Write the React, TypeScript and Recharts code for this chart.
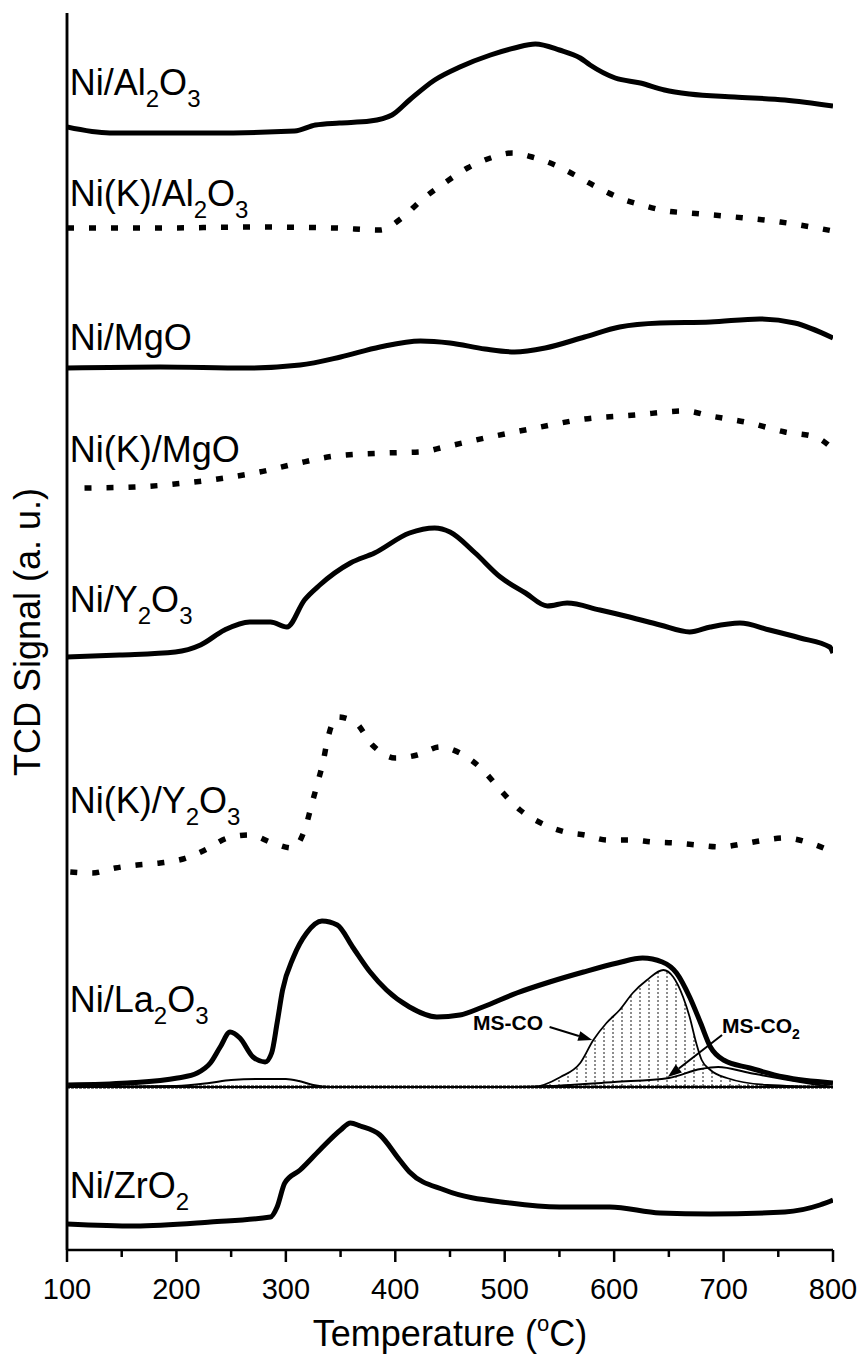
import React from 'react';
import { ComposedChart, Line, Area, XAxis, YAxis, ReferenceDot, ReferenceLine } from 'recharts';

const FONT = '"Liberation Sans", Arial, Helvetica, sans-serif';

// Temperature grid (°C) and TCD signal above each trace's own baseline (a.u.)
const alT = [100, 139, 231, 308, 327, 349, 377, 397, 413, 436, 459, 487, 509, 528, 550, 569, 578, 601, 624, 646, 669, 710, 756, 800];
const alSig = [6, 0, 0, 2, 8, 10, 12, 18, 33, 53, 66, 78, 85, 89, 83, 75, 68, 55, 50, 43, 39, 36, 33, 27];

const kAlT = [100, 185, 276, 345, 386, 406, 424, 445, 466, 487, 507, 525, 546, 564, 584, 605, 625, 648, 669, 710, 752, 800];
const kAlSig = [2, 2, 3, 2, 0, 12, 30, 47, 62, 72, 77, 73, 65, 55, 43, 32, 25, 19, 17, 13, 8, -1];

const mgoT = [100, 185, 263, 313, 350, 386, 423, 450, 482, 509, 537, 573, 605, 642, 688, 733, 765, 800];
const mgoSig = [0, 1, 0, 3, 11, 21, 27, 25, 19, 16, 20, 31, 41, 45, 46, 49, 45, 30];

const kMgoT = [116, 162, 208, 244, 276, 308, 345, 391, 423, 445, 482, 528, 573, 619, 665, 688, 724, 756, 784, 800];
const kMgoSig = [1, 2, 6, 11, 17, 25, 33, 36, 37, 42, 51, 61, 70, 74, 78, 73, 66, 57, 52, 40];

const yT = [100, 148, 199, 222, 244, 267, 286, 301, 317, 331, 359, 381, 413, 436, 450, 473, 496, 519, 539, 557, 587, 614, 642, 669, 688, 715, 742, 770, 797, 800];
const ySig = [0, 2, 5, 12, 27, 35, 35, 30, 57, 72, 94, 104, 124, 129, 125, 104, 80, 64, 51, 54, 47, 40, 32, 25, 30, 34, 27, 19, 10, 4];

const kYT = [103, 123, 144, 164, 185, 206, 226, 247, 267, 288, 306, 318, 324, 329, 334, 338, 347, 363, 379, 400, 420, 441, 459, 480, 496, 514, 535, 555, 573, 594, 615, 635, 656, 676, 697, 717, 738, 756, 779, 800];
const kYSig = [0, -1, 4, 7, 9, 13, 22, 34, 37, 29, 24, 45, 69, 89, 110, 132, 155, 150, 127, 114, 117, 125, 119, 102, 82, 62, 48, 40, 37, 32, 32, 30, 29, 27, 25, 28, 32, 34, 29, 20];

const laT = [101, 155, 201, 219, 231, 240, 249, 258, 270, 281, 287, 292, 297, 307, 319, 333, 347, 361, 377, 392, 413, 438, 459, 480, 511, 541, 572, 603, 626, 644, 657, 669, 679, 688, 700, 724, 755, 800];
const laSig = [0, 2, 7, 12, 22, 38, 53, 47, 28, 23, 32, 62, 95, 128, 152, 164, 160, 138, 113, 95, 78, 68, 70, 78, 92, 103, 113, 122, 127, 123, 112, 88, 62, 38, 25, 17, 8, 2];

// mass-spec CO and CO2 traces recorded with the La2O3 run
const msCoT = [100, 500, 526, 551, 569, 581, 593, 605, 617, 630, 645, 654, 663, 669, 675, 680, 688, 703, 740, 800];
const msCoSig = [0, 0, 0, 10, 24, 47, 64, 77, 94, 107, 117, 110, 90, 70, 44, 27, 17, 9, 2, 0];

const msCo2T = [100, 200, 230, 250, 280, 300, 312, 325, 340, 500, 540, 600, 650, 679, 695, 724, 770, 800];
const msCo2Sig = [0, 1, 4, 7, 8, 8, 6, 2, 0, 0, 1, 5, 9, 18, 20, 14, 5, 0];

const zrT = [100, 162, 231, 286, 292, 299, 313, 331, 350, 359, 368, 386, 404, 413, 445, 505, 550, 596, 642, 688, 756, 788, 800];
const zrSig = [2, 0, 4, 9, 19, 43, 56, 76, 96, 103, 100, 91, 66, 54, 36, 23, 19, 19, 13, 12, 14, 21, 26];

// vertical stacking offset of each trace
const traceOffsets = [1117, 1020, 882, 761, 593, 378, 165, 24];
const msOffset = 163;

const tempTicks = [100, 150, 200, 250, 300, 350, 400, 450, 500, 550, 600, 650, 700, 750, 800];

const toPoints = (t: number[], sig: number[], off: number) =>
  t.map((x, i) => ({ t: x, v: off + sig[i] }));

const traces = [
  { name: 'Ni/Al2O3', data: toPoints(alT, alSig, traceOffsets[0]), dashed: false },
  { name: 'Ni(K)/Al2O3', data: toPoints(kAlT, kAlSig, traceOffsets[1]), dashed: true },
  { name: 'Ni/MgO', data: toPoints(mgoT, mgoSig, traceOffsets[2]), dashed: false },
  { name: 'Ni(K)/MgO', data: toPoints(kMgoT, kMgoSig, traceOffsets[3]), dashed: true },
  { name: 'Ni/Y2O3', data: toPoints(yT, ySig, traceOffsets[4]), dashed: false },
  { name: 'Ni(K)/Y2O3', data: toPoints(kYT, kYSig, traceOffsets[5]), dashed: true },
  { name: 'Ni/La2O3', data: toPoints(laT, laSig, traceOffsets[6]), dashed: false },
  { name: 'Ni/ZrO2', data: toPoints(zrT, zrSig, traceOffsets[7]), dashed: false },
];

const msCoData = msCoT.map((x, i) => ({ t: x, band: [msOffset, msOffset + msCoSig[i]] }));
const msCo2Data = toPoints(msCo2T, msCo2Sig, msOffset);
const msBase = toPoints([100, 800], [0, 0], msOffset);

// sample names split into [text, isSubscript] runs, with anchor (°C, a.u.)
const sampleLabels: { parts: [string, boolean][]; t: number; v: number }[] = [
  { parts: [['Ni/Al', false], ['2', true], ['O', false], ['3', true]], t: 102.5, v: 1155 },
  { parts: [['Ni(K)/Al', false], ['2', true], ['O', false], ['3', true]], t: 102.5, v: 1044 },
  { parts: [['Ni/MgO', false]], t: 102.5, v: 900 },
  { parts: [['Ni(K)/MgO', false]], t: 102.5, v: 788 },
  { parts: [['Ni/Y', false], ['2', true], ['O', false], ['3', true]], t: 102.5, v: 638 },
  { parts: [['Ni(K)/Y', false], ['2', true], ['O', false], ['3', true]], t: 102.5, v: 437 },
  { parts: [['Ni/La', false], ['2', true], ['O', false], ['3', true]], t: 102.5, v: 238 },
  { parts: [['Ni/ZrO', false], ['2', true]], t: 102.5, v: 52 },
];

const renderRuns = (parts: [string, boolean][], size: number, subSize: number, drop: number) => {
  let inSub = false;
  return parts.map(([txt, sub], i) => {
    let dy = 0;
    if (sub && !inSub) dy = drop;
    if (!sub && inSub) dy = -drop;
    inSub = sub;
    return (
      <tspan key={i} dy={dy} fontSize={sub ? subSize : size}>
        {txt}
      </tspan>
    );
  });
};

const TempTick = (props: any) => {
  const { x, y, payload } = props;
  const major = payload.value % 100 === 0;
  return (
    <g>
      <line x1={x} x2={x} y1={y} y2={y + (major ? 12 : 7)} stroke="#000" strokeWidth={2.5} />
      {major && (
        <text x={x} y={y + 49} textAnchor="middle" fontFamily={FONT} fontSize={29} fill="#000">
          {payload.value}
        </text>
      )}
    </g>
  );
};

const arrowShape = (props: any) => {
  const { x1, y1, x2, y2 } = props;
  const ang = Math.atan2(y2 - y1, x2 - x1);
  const len = 14;
  const half = 5;
  const bx = x2 - len * Math.cos(ang);
  const by = y2 - len * Math.sin(ang);
  const px = -Math.sin(ang) * half;
  const py = Math.cos(ang) * half;
  return (
    <g>
      <line x1={x1} y1={y1} x2={bx} y2={by} stroke="#000" strokeWidth={2} />
      <polygon points={`${x2},${y2} ${bx + px},${by + py} ${bx - px},${by - py}`} fill="#000" />
    </g>
  );
};

export default function App() {
  return (
    <div style={{ position: 'absolute', left: 0, top: 0, background: '#fff' }}>
      <ComposedChart width={862} height={1354} margin={{ top: 13, right: 29, bottom: 0, left: 66 }}>
        <defs>
          <pattern id="msHatch" width="9" height="4" patternUnits="userSpaceOnUse">
            <line x1="1" y1="0" x2="1" y2="2" stroke="#000" strokeWidth="0.9" />
          </pattern>
        </defs>
        <XAxis
          type="number"
          dataKey="t"
          domain={[100, 800]}
          ticks={tempTicks}
          interval={0}
          allowDataOverflow
          height={104}
          tickSize={0}
          tickMargin={0}
          tickLine={false}
          axisLine={{ stroke: '#000', strokeWidth: 2.5 }}
          tick={<TempTick />}
          label={{
            content: (p: any) => {
              const vb = p.viewBox;
              return (
                <text x={vb.x + vb.width / 2} y={vb.y + 96} textAnchor="middle" fontFamily={FONT} fontSize={36} fill="#000">
                  Temperature (
                  <tspan dy={-15} fontSize={22}>o</tspan>
                  <tspan dy={15}>C)</tspan>
                </text>
              );
            },
          }}
        />
        <YAxis
          type="number"
          domain={[0, 1237]}
          allowDataOverflow
          width={1}
          tick={false}
          tickLine={false}
          axisLine={{ stroke: '#000', strokeWidth: 2.5 }}
        />
        <ReferenceLine x={100} stroke="#000" strokeWidth={2.5} />
        <ReferenceDot
          x={100}
          y={618}
          r={0}
          shape={(p: any) => {
            const cx = 30;
            const cy = p.cy;
            return (
              <text x={cx} y={cy} transform={`rotate(-90 ${cx} ${cy})`} textAnchor="middle" dominantBaseline="middle" fontFamily={FONT} fontSize={36} fill="#000">
                TCD Signal (a. u.)
              </text>
            );
          }}
        />

        <Area
          data={msCoData}
          dataKey="band"
          type="monotone"
          stroke="#000"
          strokeWidth={1.8}
          fill="url(#msHatch)"
          fillOpacity={1}
          isAnimationActive={false}
          dot={false}
          activeDot={false}
        />
        <Line
          data={msBase}
          dataKey="v"
          stroke="#000"
          strokeWidth={3}
          strokeDasharray="3 1"
          dot={false}
          activeDot={false}
          isAnimationActive={false}
        />
        <Line
          data={msCo2Data}
          dataKey="v"
          type="monotone"
          stroke="#000"
          strokeWidth={2}
          dot={false}
          activeDot={false}
          isAnimationActive={false}
        />

        {traces.map((tr) => (
          <Line
            key={tr.name}
            name={tr.name}
            data={tr.data}
            dataKey="v"
            type="monotone"
            stroke="#000"
            strokeWidth={tr.dashed ? 5.5 : 5}
            strokeDasharray={tr.dashed ? '7 15' : undefined}
            strokeLinejoin="round"
            dot={false}
            activeDot={false}
            isAnimationActive={false}
          />
        ))}

        <ReferenceLine segment={[{ x: 541, y: 223 }, { x: 580, y: 210 }]} shape={arrowShape} />
        <ReferenceLine segment={[{ x: 698.6, y: 215 }, { x: 649, y: 173 }]} shape={arrowShape} />
        <ReferenceDot
          x={471}
          y={220}
          r={0}
          shape={(p: any) => (
            <text x={p.cx} y={p.cy} fontFamily={FONT} fontSize={21} fontWeight="bold" fill="#000">
              MS-CO
            </text>
          )}
        />
        <ReferenceDot
          x={698.6}
          y={217}
          r={0}
          shape={(p: any) => (
            <text x={p.cx} y={p.cy} fontFamily={FONT} fontSize={21} fontWeight="bold" fill="#000">
              {renderRuns([['MS-CO', false], ['2', true]], 21, 14, 6)}
            </text>
          )}
        />

        {sampleLabels.map((lb, i) => (
          <ReferenceDot
            key={i}
            x={lb.t}
            y={lb.v}
            r={0}
            shape={(p: any) => (
              <text x={p.cx} y={p.cy} fontFamily={FONT} fontSize={36} fill="#000">
                {renderRuns(lb.parts, 36, 24, 12)}
              </text>
            )}
          />
        ))}
      </ComposedChart>
    </div>
  );
}
